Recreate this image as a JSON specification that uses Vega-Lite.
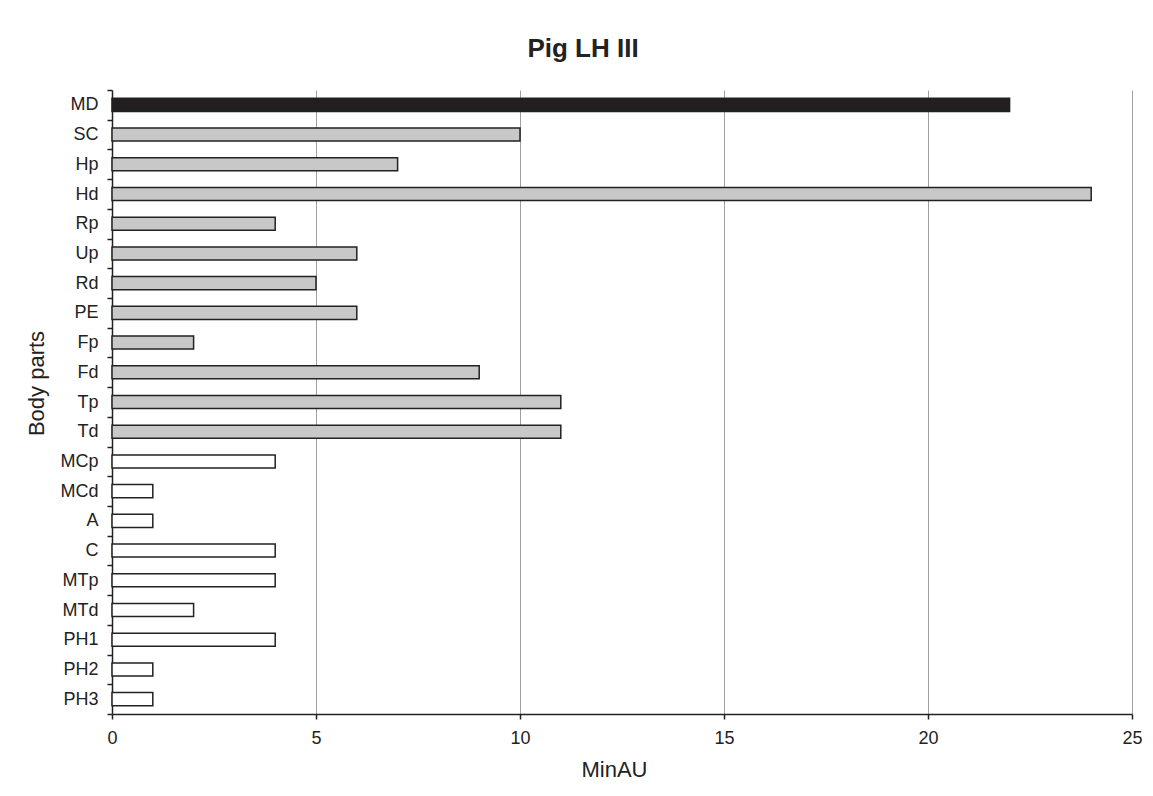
{
  "$schema": "https://vega.github.io/schema/vega-lite/v6.json",
  "width": 1020,
  "height": 624,
  "autosize": {"type": "none"},
  "padding": {"left": 112, "top": 90, "right": 21, "bottom": 82},
  "background": "#ffffff",
  "title": {
    "text": "Pig LH III",
    "fontSize": 26,
    "fontWeight": "bold",
    "font": "Liberation Sans",
    "color": "#222222",
    "anchor": "middle",
    "frame": "group",
    "dx": -39,
    "dy": 36,
    "baseline": "alphabetic",
    "offset": 34
  },
  "config": {
    "view": {"stroke": null},
    "font": "Liberation Sans"
  },
  "data": {
    "values": [
      {"part": "MD", "value": 22, "group": "MD"},
      {"part": "SC", "value": 10, "group": "grey"},
      {"part": "Hp", "value": 7, "group": "grey"},
      {"part": "Hd", "value": 24, "group": "grey"},
      {"part": "Rp", "value": 4, "group": "grey"},
      {"part": "Up", "value": 6, "group": "grey"},
      {"part": "Rd", "value": 5, "group": "grey"},
      {"part": "PE", "value": 6, "group": "grey"},
      {"part": "Fp", "value": 2, "group": "grey"},
      {"part": "Fd", "value": 9, "group": "grey"},
      {"part": "Tp", "value": 11, "group": "grey"},
      {"part": "Td", "value": 11, "group": "grey"},
      {"part": "MCp", "value": 4, "group": "white"},
      {"part": "MCd", "value": 1, "group": "white"},
      {"part": "A", "value": 1, "group": "white"},
      {"part": "C", "value": 4, "group": "white"},
      {"part": "MTp", "value": 4, "group": "white"},
      {"part": "MTd", "value": 2, "group": "white"},
      {"part": "PH1", "value": 4, "group": "white"},
      {"part": "PH2", "value": 1, "group": "white"},
      {"part": "PH3", "value": 1, "group": "white"}
    ]
  },
  "mark": {
    "type": "bar",
    "height": {"band": 0.44},
    "stroke": "#222222",
    "strokeWidth": 1.5
  },
  "encoding": {
    "y": {
      "field": "part",
      "type": "nominal",
      "sort": null,
      "scale": {"paddingInner": 0, "paddingOuter": 0},
      "axis": {
        "title": "Body parts",
        "titleFontSize": 22,
        "titleFontWeight": "normal",
        "titleColor": "#222222",
        "titleX": -69,
        "titleY": 293,
        "titleAngle": 270,
        "titleAlign": "center",
        "titleBaseline": "alphabetic",
        "labelFontSize": 18,
        "labelColor": "#222222",
        "labelPadding": 9,
        "tickBand": "extent",
        "tickSize": 5,
        "tickColor": "#222222",
        "tickWidth": 1.5,
        "domainColor": "#222222",
        "domainWidth": 1.5,
        "grid": false
      }
    },
    "x": {
      "field": "value",
      "type": "quantitative",
      "scale": {"domain": [0, 25], "nice": false},
      "axis": {
        "title": "MinAU",
        "titleFontSize": 22,
        "titleFontWeight": "normal",
        "titleColor": "#222222",
        "titleX": 502,
        "titleY": 62,
        "titleAlign": "center",
        "titleBaseline": "alphabetic",
        "values": [0, 5, 10, 15, 20, 25],
        "labelFontSize": 18,
        "labelColor": "#222222",
        "labelPadding": 10,
        "labelFlush": false,
        "tickSize": 5,
        "tickColor": "#222222",
        "tickWidth": 1.5,
        "domainColor": "#222222",
        "domainWidth": 1.5,
        "grid": true,
        "gridColor": "#a0a0a0",
        "gridWidth": 1
      }
    },
    "fill": {
      "field": "group",
      "type": "nominal",
      "scale": {"domain": ["MD", "grey", "white"], "range": ["#231f20", "#c8c8c9", "#ffffff"]},
      "legend": null
    }
  }
}
